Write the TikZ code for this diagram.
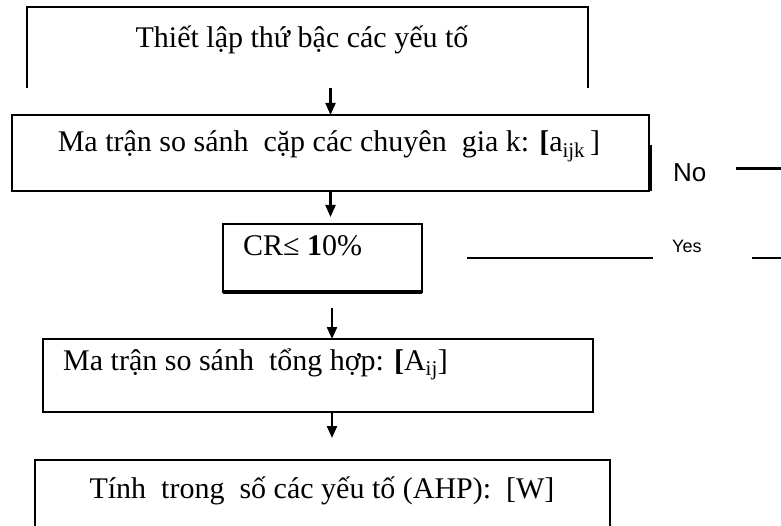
\documentclass[tikz,border=0pt]{standalone}
\usepackage{fontspec}
\setmainfont{Liberation Serif}
\newfontfamily\labelsans{Liberation Sans}
\usetikzlibrary{arrows.meta,calc}

\begin{document}
\begin{tikzpicture}[x=1pt,y=-1pt,
  box/.style={draw=black, line width=1.4pt, inner sep=0pt, outer sep=0pt, anchor=north west},
  boxtext/.style={inner sep=0pt, font=\fontsize{30}{36}\selectfont},
  flow/.style={line width=2.2pt, -{Triangle[length=12pt,width=10pt]}},
  stub/.style={line width=2.2pt},
  tag/.style={inner sep=0pt, anchor=base west, font=\labelsans},
]
\useasboundingbox (0,0) rectangle (781,526);
\clip (0,0) rectangle (781,526);

% process boxes
\node[box, draw=none, minimum width=561pt, minimum height=81pt] (b1) at (27,7) {};
\draw[line width=1.4pt] (b1.south west) -- (b1.north west) -- (b1.north east) -- (b1.south east);
\node[box, minimum width=637pt, minimum height=76pt] (b2) at (12,115) {};
\node[box, minimum width=199pt, minimum height=68pt] (b3) at (223,224) {};
\node[box, minimum width=550pt, minimum height=73pt] (b4) at (43,339) {};
\node[box, minimum width=575pt, minimum height=90pt] (b5) at (35,460) {};

% heavier edges
\draw[line width=3.5pt] ($(b2.south east)+(1,-46)$) -- ($(b2.south east)+(1,0)$);
\draw[line width=2pt] (b2.south west) -- (b2.south east);
\draw[line width=4pt] (b3.south west) -- (b3.south east);
\draw[line width=2.5pt] (b3.north east) -- (b3.south east);

% box texts
\node[boxtext, anchor=base] (t1) at (302,48) {Thiết lập thứ bậc các yếu tố};
\node[boxtext, anchor=base] (t2) at (329,152) {Ma trận so sánh\ \ cặp các chuyên\ \ gia k: {\bfseries[}a\textsubscript{ijk}\,]};
\node[boxtext, anchor=base west] (t3) at (243,256) {CR≤ \textbf{1}0\%};
\node[boxtext, anchor=base west] (t4) at (63,370) {Ma trận so sánh\ \ tổng hợp: {\bfseries[}A\textsubscript{ij}]};
\node[boxtext, anchor=base] (t5) at (322,498) {Tính\ \ trong\ \ số các yếu tố (AHP):\ \ [W]};

% flow arrows
\draw[flow] (b1.south -| b2.north) -- (b2.north);
\draw[flow, shorten >=7pt] (b2.south) -- (b2.south |- b3.north);
\coordinate (a3) at (332,308);
\draw[flow] (a3) -- (a3 |- b4.north);
\draw[flow, shorten >=22pt] (b4.south -| a3) -- (b5.north -| a3);

% decision branches
\node[tag, font=\labelsans\fontsize{26}{30}\selectfont] (no) at (673,182) {No};
\node[tag, font=\labelsans\fontsize{18}{22}\selectfont] (yes) at (672,253) {Yes};
\coordinate (no0) at (736,169);
\coordinate (no1) at (781,169);
\draw[stub, line width=3pt] (no0) -- (no1);
\coordinate (yl0) at (467,258);
\coordinate (yl1) at (653,258);
\coordinate (yr0) at (752,258);
\coordinate (yr1) at (781,258);
\draw[stub] (yl0) -- (yl1);
\draw[stub] (yr0) -- (yr1);
\end{tikzpicture}
\end{document}
